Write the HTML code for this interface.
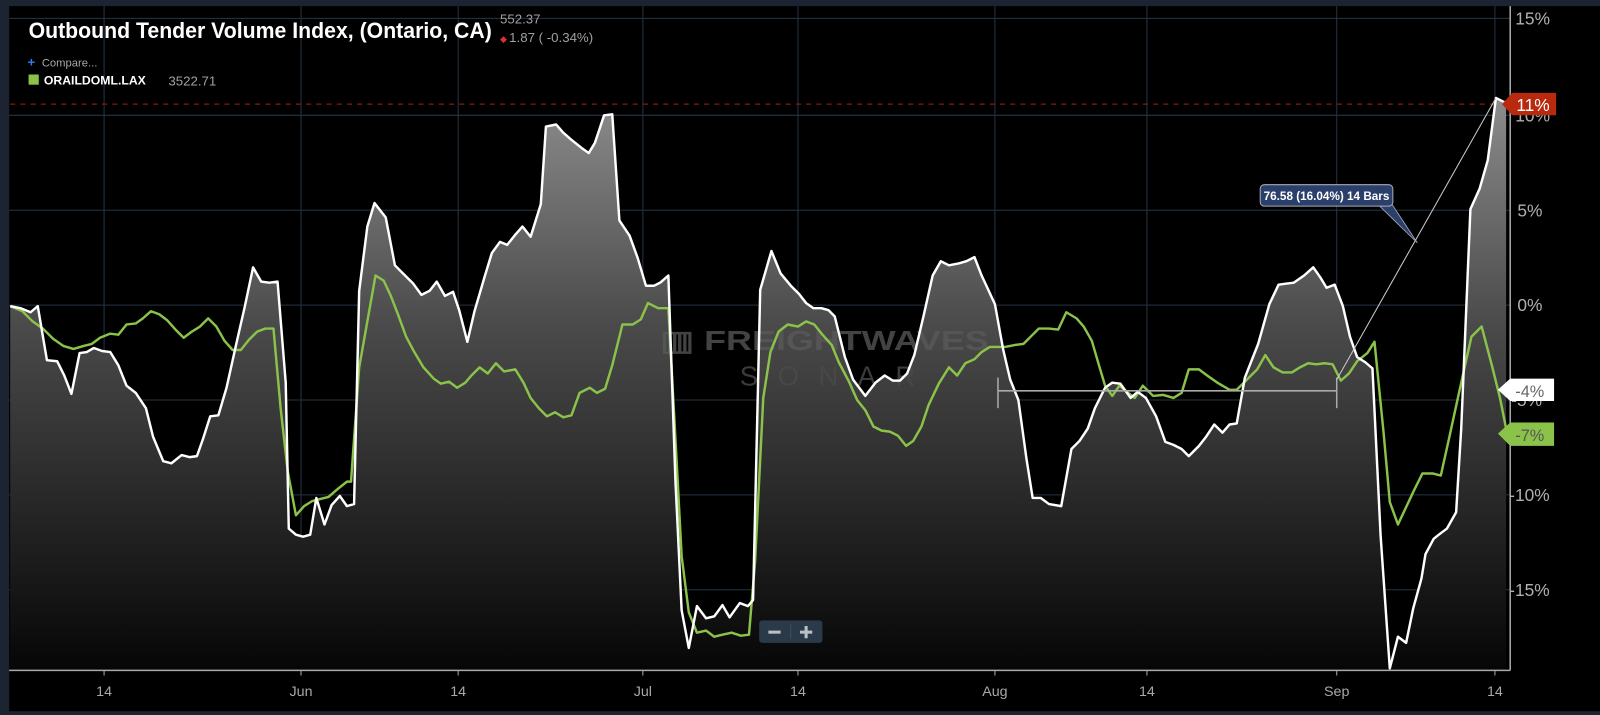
<!DOCTYPE html>
<html><head><meta charset="utf-8"><style>
html,body{margin:0;padding:0;background:#000;width:1600px;height:715px;overflow:hidden}
svg{display:block}
text{font-family:"Liberation Sans",sans-serif}
.n{font-family:"Liberation Sans Narrow","Liberation Sans",sans-serif}
</style></head><body>
<svg width="1600" height="715" viewBox="0 0 1568 700.7" preserveAspectRatio="none" xmlns="http://www.w3.org/2000/svg">
<defs>
<linearGradient id="g" gradientUnits="userSpaceOnUse" x1="0" y1="95" x2="0" y2="657">
<stop offset="0" stop-color="#8c8c8c"/><stop offset="0.4" stop-color="#4a4a4a"/><stop offset="1" stop-color="#060606"/>
</linearGradient>
</defs>
<rect x="0" y="0" width="1568" height="701" fill="#000"/>
<rect x="0" y="0" width="1568" height="6" fill="#1b2430"/>
<rect x="0" y="0" width="9" height="701" fill="#1b2430"/>
<rect x="0" y="697" width="1568" height="4" fill="#1b2430"/>
<g stroke="#263444" stroke-width="1">
<line x1="9" y1="18" x2="1480" y2="18"/><line x1="9" y1="113" x2="1480" y2="113"/><line x1="9" y1="206" x2="1480" y2="206"/><line x1="9" y1="299" x2="1480" y2="299"/><line x1="9" y1="392" x2="1480" y2="392"/><line x1="9" y1="485" x2="1480" y2="485"/><line x1="9" y1="578" x2="1480" y2="578"/>
<line x1="102" y1="6" x2="102" y2="657"/><line x1="295" y1="6" x2="295" y2="657"/><line x1="449" y1="6" x2="449" y2="657"/><line x1="630" y1="6" x2="630" y2="657"/><line x1="782" y1="6" x2="782" y2="657"/><line x1="975" y1="6" x2="975" y2="657"/><line x1="1124" y1="6" x2="1124" y2="657"/><line x1="1310" y1="6" x2="1310" y2="657"/><line x1="1465" y1="6" x2="1465" y2="657"/>
</g>
<polygon fill="url(#g)" points="10,657 10,300 20,302 30,306 37,300 46,353 56,354 63,368 70,386 78,346 85,345 92,341 100,344 108,345 116,358 124,378 133,385 143,400 150,428 160,452 168,454 178,446 186,448 193,447 199,430 206,408 214,407 222,380 232,335 240,300 248,262 256,276 264,277 272,276 280,375 283,518 290,524 297,526 304,524 310,488 318,514 325,495 333,486 340,496 347,494 352,285 360,222 367,199 378,213 387,260 395,268 405,278 413,289 421,285 428,276 436,290 444,286 450,304 458,335 465,305 475,271 482,248 490,237 497,240 505,230 512,222 520,232 530,200 535,124 545,122 552,130 560,137 570,145 577,150 583,140 592,113 600,112 607,216 617,231 625,253 633,280 641,280 647,277 655,270 662,473 668,598 675,635 683,594 692,606 700,604 708,593 715,605 725,591 733,594 738,588 745,284 756,246 765,268 775,280 783,288 790,297 797,302 805,302 812,304 818,310 828,350 836,372 848,388 858,375 867,368 875,373 882,373 889,366 896,348 905,310 914,270 922,256 930,260 940,258 947,256 955,252 962,270 975,298 983,342 990,372 998,392 1006,450 1012,488 1020,488 1028,494 1040,496 1050,440 1058,432 1066,420 1073,400 1083,380 1090,375 1098,376 1108,390 1115,384 1123,390 1133,408 1142,433 1150,436 1158,440 1165,447 1175,437 1182,428 1190,416 1198,424 1205,416 1212,415 1220,370 1233,337 1244,298 1253,279 1260,278 1268,277 1278,270 1287,262 1294,272 1300,282 1308,279 1316,300 1323,330 1330,350 1338,355 1345,361 1353,525 1362,655 1370,624 1378,630 1385,596 1393,567 1397,543 1405,528 1410,524 1418,518 1427,502 1432,420 1441,205 1450,185 1458,157 1466,96 1476,101 1476,657"/>
<g font-weight="bold" fill="#5a5a5a" opacity="0.75">
<text x="647" y="343" font-size="27" textLength="322" lengthAdjust="spacingAndGlyphs">▥ FREIGHTWAVES</text>
</g>
<text x="725" y="378" font-size="27" fill="#4a4a4a" textLength="172" lengthAdjust="spacing" opacity="0.8">SONAR</text>
<line x1="10" y1="102" x2="1465" y2="102" stroke="#8a1a10" stroke-width="1.2" stroke-dasharray="5,5"/>
<polyline fill="none" stroke="#8bc34a" stroke-width="2.4" stroke-linejoin="round" points="10,300 22,305 32,315 42,322 52,332 62,339 72,342 82,339 90,337 98,331 108,327 116,328 124,318 133,317 140,312 148,305 156,308 164,314 172,323 180,331 188,325 196,320 204,312 212,320 220,334 228,343 236,343 244,333 252,325 260,322 268,322 275,400 282,462 290,505 298,496 306,491 314,489 322,487 330,480 340,472 344,472 352,360 360,315 368,270 376,275 383,290 390,308 398,330 406,345 415,360 425,371 432,376 440,374 448,380 456,375 462,368 470,360 478,366 486,356 494,364 505,362 513,375 520,390 528,400 536,408 544,404 552,409 560,407 568,385 578,380 585,385 593,381 600,358 610,318 620,318 628,313 635,297 645,302 655,302 663,450 668,545 675,600 683,620 692,618 700,624 708,622 717,620 726,623 734,622 740,550 748,390 755,345 763,325 772,318 782,320 790,315 798,318 806,328 815,338 822,355 832,374 840,392 848,402 856,418 864,422 872,423 880,427 888,437 895,432 903,418 910,397 920,376 930,360 938,368 946,356 955,352 962,345 970,340 978,340 985,340 995,338 1003,337 1012,328 1018,322 1028,322 1037,323 1045,306 1055,312 1062,320 1070,334 1077,358 1083,378 1090,388 1097,378 1103,383 1112,390 1120,378 1130,388 1140,387 1150,390 1158,385 1165,362 1175,362 1183,368 1193,375 1205,382 1212,382 1220,374 1232,362 1240,348 1248,360 1257,365 1266,365 1274,360 1282,356 1290,357 1298,356 1306,357 1314,373 1322,366 1330,354 1340,346 1347,335 1356,425 1362,492 1370,514 1378,497 1386,480 1394,464 1404,464 1412,466 1420,430 1432,375 1442,330 1452,320 1462,358 1470,390 1476,420"/>
<polyline fill="none" stroke="#fff" stroke-width="2.4" stroke-linejoin="round" points="10,300 20,302 30,306 37,300 46,353 56,354 63,368 70,386 78,346 85,345 92,341 100,344 108,345 116,358 124,378 133,385 143,400 150,428 160,452 168,454 178,446 186,448 193,447 199,430 206,408 214,407 222,380 232,335 240,300 248,262 256,276 264,277 272,276 280,375 283,518 290,524 297,526 304,524 310,488 318,514 325,495 333,486 340,496 347,494 352,285 360,222 367,199 378,213 387,260 395,268 405,278 413,289 421,285 428,276 436,290 444,286 450,304 458,335 465,305 475,271 482,248 490,237 497,240 505,230 512,222 520,232 530,200 535,124 545,122 552,130 560,137 570,145 577,150 583,140 592,113 600,112 607,216 617,231 625,253 633,280 641,280 647,277 655,270 662,473 668,598 675,635 683,594 692,606 700,604 708,593 715,605 725,591 733,594 738,588 745,284 756,246 765,268 775,280 783,288 790,297 797,302 805,302 812,304 818,310 828,350 836,372 848,388 858,375 867,368 875,373 882,373 889,366 896,348 905,310 914,270 922,256 930,260 940,258 947,256 955,252 962,270 975,298 983,342 990,372 998,392 1006,450 1012,488 1020,488 1028,494 1040,496 1050,440 1058,432 1066,420 1073,400 1083,380 1090,375 1098,376 1108,390 1115,384 1123,390 1133,408 1142,433 1150,436 1158,440 1165,447 1175,437 1182,428 1190,416 1198,424 1205,416 1212,415 1220,370 1233,337 1244,298 1253,279 1260,278 1268,277 1278,270 1287,262 1294,272 1300,282 1308,279 1316,300 1323,330 1330,350 1338,355 1345,361 1353,525 1362,655 1370,624 1378,630 1385,596 1393,567 1397,543 1405,528 1410,524 1418,518 1427,502 1432,420 1441,205 1450,185 1458,157 1466,96 1476,101"/>
<g stroke="#aaa" stroke-width="1.5">
<line x1="978" y1="383" x2="1310" y2="383"/><line x1="978" y1="370" x2="978" y2="400"/><line x1="1310" y1="370" x2="1310" y2="400"/>
</g>
<line x1="1310" y1="372" x2="1466" y2="96" stroke="#ccc" stroke-width="1"/>
<polygon points="1350,200 1364,200 1389,238" fill="#2a3f6a" stroke="#aab" stroke-width="0.8"/>
<rect x="1235" y="181" width="130" height="21" rx="4" fill="#2a3f6a" stroke="#aab" stroke-width="1"/>
<text x="1300" y="196" font-size="11.5" font-weight="bold" fill="#fff" text-anchor="middle" class="n">76.58 (16.04%) 14 Bars</text>
<g stroke="#aaa" stroke-width="1.5"><line x1="1480" y1="6" x2="1480" y2="657"/><line x1="9" y1="657" x2="1480" y2="657"/></g>
<g font-size="17" fill="#b0b0b0">
<text x="1485" y="24">15%</text><text x="1485" y="119">10%</text><text x="1487" y="212">5%</text><text x="1487" y="305">0%</text><text x="1481" y="398">-5%</text><text x="1479" y="491">-10%</text><text x="1479" y="584">-15%</text>
</g>
<g stroke="#aaa" stroke-width="1"><line x1="102" y1="657" x2="102" y2="662"/><line x1="295" y1="657" x2="295" y2="662"/><line x1="449" y1="657" x2="449" y2="662"/><line x1="630" y1="657" x2="630" y2="662"/><line x1="782" y1="657" x2="782" y2="662"/><line x1="975" y1="657" x2="975" y2="662"/><line x1="1124" y1="657" x2="1124" y2="662"/><line x1="1310" y1="657" x2="1310" y2="662"/><line x1="1465" y1="657" x2="1465" y2="662"/></g>
<g font-size="14" fill="#a8a8a8" text-anchor="middle">
<text x="102" y="682">14</text><text x="295" y="682">Jun</text><text x="449" y="682">14</text><text x="630" y="682">Jul</text><text x="782" y="682">14</text><text x="975" y="682">Aug</text><text x="1124" y="682">14</text><text x="1310" y="682">Sep</text><text x="1465" y="682">14</text>
</g>
<polygon points="1472,102 1482,91 1525,91 1525,113 1482,113" fill="#b8290e"/>
<text x="1486" y="109" font-size="17" fill="#fff">11%</text>
<polygon points="1468,382 1480,371 1523,371 1523,393 1480,393" fill="#fff"/>
<text x="1485" y="389" font-size="16" fill="#666">-4%</text>
<polygon points="1468,425 1480,414 1523,414 1523,437 1480,437" fill="#8bc34a"/>
<text x="1485" y="432" font-size="16" fill="#555">-7%</text>
<rect x="744" y="608" width="62" height="22" rx="3" fill="#2b3a48"/>
<line x1="775" y1="612" x2="775" y2="626" stroke="#3e4e5c"/>
<rect x="753" y="618" width="12" height="3" fill="#b8c0c8"/>
<rect x="784" y="618" width="12" height="3" fill="#b8c0c8"/><rect x="788.5" y="613.5" width="3" height="12" fill="#b8c0c8"/>
<text x="28" y="37" font-size="22" font-weight="bold" fill="#fff" class="n" textLength="454" lengthAdjust="spacingAndGlyphs">Outbound Tender Volume Index, (Ontario, CA)</text>
<text x="490" y="23" font-size="13" fill="#a0a0a0">552.37</text>
<text x="490" y="41" font-size="9" fill="#e0302a">◆</text>
<text x="499" y="41" font-size="13" fill="#a0a0a0">1.87 ( -0.34%)</text>
<text x="27" y="65" font-size="13" font-weight="bold" fill="#2f7ef0">+</text>
<text x="41" y="65" font-size="11" fill="#a8a8a8">Compare...</text>
<rect x="28" y="73" width="10" height="10" fill="#8bc34a"/>
<text x="43" y="83" font-size="12" font-weight="bold" fill="#fff" class="n">ORAILDOML.LAX</text>
<text x="165" y="84" font-size="13" fill="#a0a0a0">3522.71</text>
</svg>
</body></html>
